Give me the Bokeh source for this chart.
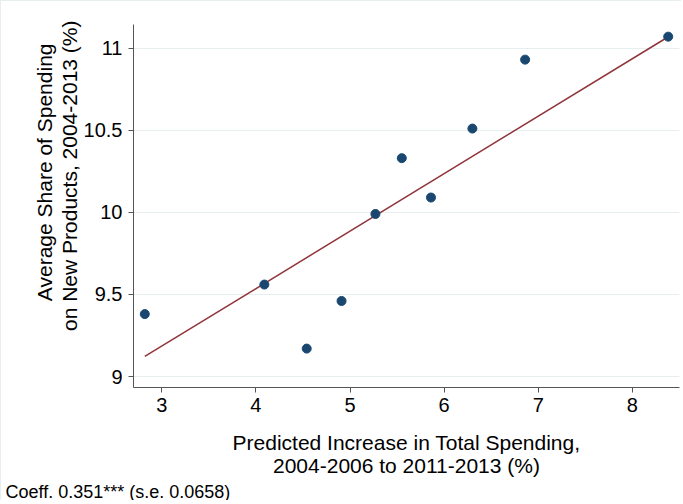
from bokeh.plotting import figure
from bokeh.models import Range1d, FixedTicker, Title
from bokeh.embed import file_html
from bokeh.resources import INLINE

# Data
pred_increase = [2.82, 4.09, 4.54, 4.91, 5.27, 5.55, 5.86, 6.30, 6.86, 8.38]
new_share = [9.38, 9.56, 9.17, 9.46, 9.99, 10.33, 10.09, 10.51, 10.93, 11.07]
fit_x = [2.82, 8.386]
fit_y = [9.122, 11.071]
x_ticks = [3, 4, 5, 6, 7, 8]
y_ticks = [9, 9.5, 10, 10.5, 11]
x_title = "Predicted Increase in Total Spending,\n2004-2006 to 2011-2013 (%)"
y_title_1 = "Average Share of Spending"
y_title_2 = "on New Products, 2004-2013 (%)"
caption = "Coeff. 0.351*** (s.e. 0.0658)"

FONT = "Liberation Sans"

p = figure(width=681, height=500, output_backend="svg", toolbar_location=None,
           x_range=Range1d(2.70, 8.50), y_range=Range1d(8.933, 11.144),
           min_border_left=132, min_border_right=3, min_border_top=23, min_border_bottom=114)
p.styles = {"border-top": "1px solid #e6eef0", "border-left": "1px solid #e6eef0"}

p.outline_line_color = None
p.background_fill_color = "white"
p.border_fill_color = "white"

# fitted line and points
p.line(fit_x, fit_y, line_color="#90353b", line_width=1.5)
p.scatter(pred_increase, new_share, size=9, fill_color="#1a476f", line_color="#1a476f")

# axes
for ax in (p.xaxis[0], p.yaxis[0]):
    ax.major_label_text_font = FONT
    ax.major_label_text_font_size = "20px"
    ax.major_label_text_color = "black"
    ax.axis_label_text_font = FONT
    ax.axis_label_text_font_size = "21px"
    ax.axis_label_text_font_style = "normal"
    ax.axis_label_text_color = "black"
    ax.axis_label_text_line_height = 1.0
    ax.axis_line_color = "#555555"
    ax.major_tick_line_color = "#555555"
    ax.major_tick_out = 5
    ax.major_tick_in = 0
    ax.minor_tick_line_color = None
    ax.axis_label_text_align = "center"

p.xaxis[0].ticker = FixedTicker(ticks=x_ticks)
p.yaxis[0].ticker = FixedTicker(ticks=y_ticks)
p.xaxis[0].axis_label = x_title
p.xaxis[0].axis_label_standoff = 16
p.xaxis[0].major_label_standoff = 5
p.yaxis[0].major_label_standoff = 6
p.yaxis[0].major_label_orientation = "horizontal"

# y title as two left-side titles (inner line first)
for txt, off in ((y_title_2, -4), (y_title_1, 19)):
    t = Title(text=txt, align="right", offset=off, text_font=FONT, text_font_size="21px",
              text_font_style="normal", text_color="black", standoff=0)
    p.add_layout(t, "left")

p.xgrid.grid_line_color = None
p.ygrid[0].ticker = FixedTicker(ticks=y_ticks)
p.ygrid.grid_line_color = "#e6eef0"
p.ygrid.grid_line_width = 1

cap = Title(text=caption, align="left", text_font=FONT, text_font_size="18px",
            text_font_style="normal", text_color="black", offset=-128, standoff=0)
p.add_layout(cap, "below")

open("out.html", "w").write(file_html(p, INLINE))
